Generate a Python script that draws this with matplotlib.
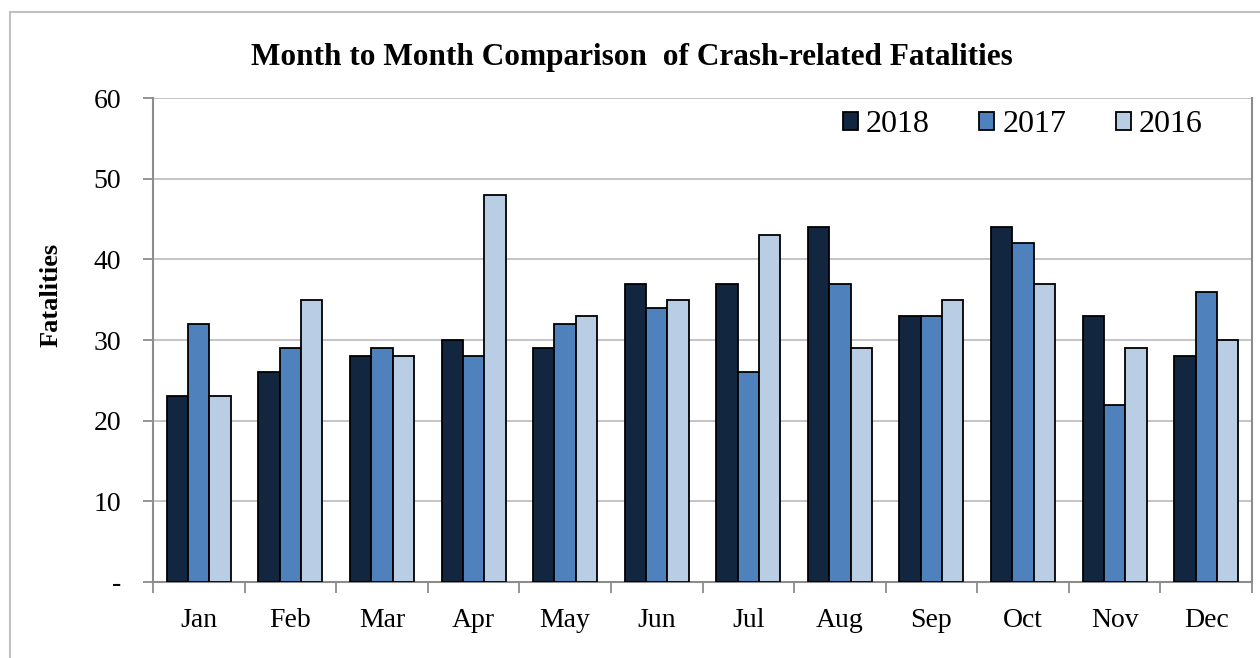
import numpy as np
import matplotlib
matplotlib.use('Agg')
import matplotlib.pyplot as plt
from matplotlib.patches import Rectangle
from matplotlib.ticker import FuncFormatter

plt.rcParams['font.family'] = ['Liberation Serif', 'DejaVu Serif']

months = ['Jan', 'Feb', 'Mar', 'Apr', 'May', 'Jun',
          'Jul', 'Aug', 'Sep', 'Oct', 'Nov', 'Dec']
years = ['2018', '2017', '2016']
fat_2018 = [23, 26, 28, 30, 29, 37, 37, 44, 33, 44, 33, 28]
fat_2017 = [32, 29, 29, 28, 32, 34, 26, 37, 33, 42, 22, 36]
fat_2016 = [23, 35, 28, 48, 33, 35, 43, 29, 35, 37, 29, 30]
colors = ['#12263f', '#4f81bd', '#b9cde5']

W, H = 1260, 658
fig = plt.figure(figsize=(W/100, H/100), dpi=100)
ax = fig.add_axes([153/W, 1-582/H, (1252-153)/W, (582-98)/H])

# outer chart frame
fig.patches.append(Rectangle((10/W, -0.1), 1.2, 1-12/H+0.1, transform=fig.transFigure,
                             fill=False, edgecolor='#c0c0c0', lw=1.5, zorder=0))

x = np.arange(len(months)) + 0.5
bw = 0.233
for i, (vals, yr) in enumerate(zip([fat_2018, fat_2017, fat_2016], years)):
    ax.bar(x + (i-1)*bw, vals, bw, color=colors[i], edgecolor='black',
           linewidth=1.3, label=yr, zorder=3)

ax.set_xlim(0, 12)
ax.set_ylim(0, 60)
ax.set_yticks(np.arange(0, 61, 10))
ax.yaxis.set_major_formatter(FuncFormatter(lambda v, p: '-' if v == 0 else f'{v:.0f}'))
ax.yaxis.grid(True, color='#bfbfbf', lw=1.3, zorder=0)

ax.set_xticks(np.arange(0, 13))
ax.set_xticklabels([])
ax.set_xticks(x, minor=True)
ax.set_xticklabels(months, minor=True)
ax.tick_params(axis='x', which='minor', length=0, labelsize=20, pad=19)
ax.tick_params(axis='x', which='major', length=8, width=1.3, color='#8c8c8c')
ax.tick_params(axis='y', length=7, width=1.3, color='#8c8c8c', labelsize=20, pad=16)

for s in ['left', 'bottom', 'right']:
    ax.spines[s].set_color('#8c8c8c')
    ax.spines[s].set_linewidth(1.5)
ax.spines['top'].set_visible(False)

fig.text(632/W, 1-58/H, 'Month to Month Comparison  of Crash-related Fatalities',
         ha='center', va='center', fontsize=22.5, fontweight='bold')
fig.text(51/W, 1-295/H, 'Fatalities', rotation=90, ha='center', va='center',
         fontsize=19, fontweight='bold')

ax.legend(ncol=3, frameon=False, fontsize=23, loc='center left',
          bbox_to_anchor=(843/W, 1-125/H), bbox_transform=fig.transFigure,
          borderpad=0, borderaxespad=0, handlelength=0.47, handleheight=0.47,
          handletextpad=0.25, columnspacing=1.55)

fig.savefig('out.png', dpi=100)
